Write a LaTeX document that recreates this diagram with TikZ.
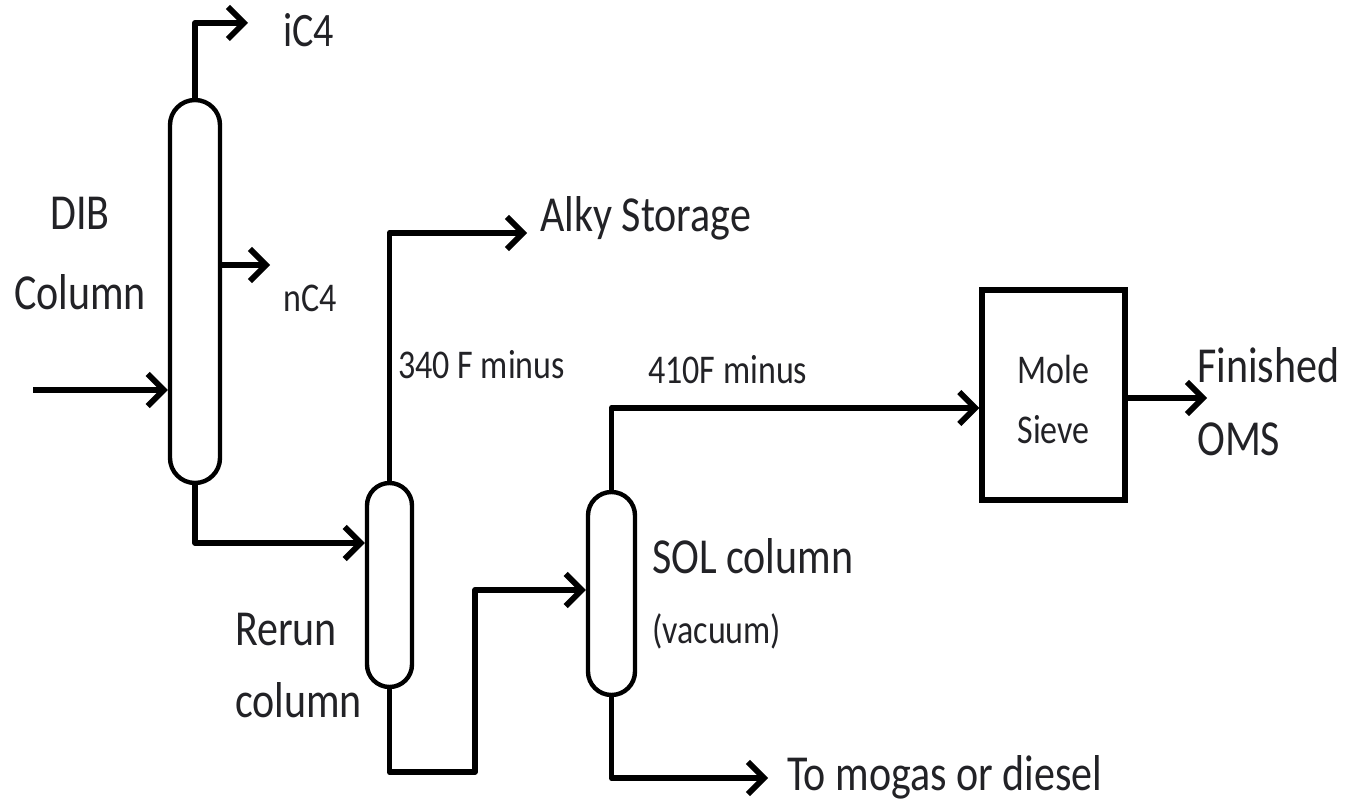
\documentclass[tikz,border=0pt]{standalone}
\usepackage{fontspec}
\usepackage{graphicx}
\setmainfont{Carlito}
\usetikzlibrary{arrows.meta,calc}
\definecolor{ink}{RGB}{34,34,38}
% text at a given size, set a little taller than the font's own proportions
\newcommand{\tx}[2]{\scalebox{1}[1.2]{\fontsize{#1}{#1}\selectfont #2}}
\tikzset{
  vessel/.style={draw=black, line width=4.4pt, fill=white, rounded corners=#1,
    minimum width=2*#1, inner sep=0pt},
  unitbox/.style={draw=black, line width=5.2pt, fill=white, inner sep=0pt,
    minimum width=143pt, minimum height=210pt},
  flow/.style={draw=black, line width=5.8pt, line join=round,
    -{Straight Barb[length=16pt,width=32pt,line width=5.8pt]}},
  lbl/.style={text=ink, inner sep=0pt, anchor=base west},
  clbl/.style={text=ink, inner sep=0pt, anchor=base},
}
\begin{document}
\begin{tikzpicture}[x=1pt,y=-1pt]
\useasboundingbox (0,0) rectangle (1355,802);

% columns and the sieve unit
\node[vessel=25pt, minimum height=383pt] (dib)   at (195,291.5) {};
\node[vessel=22.5pt, minimum height=204pt] (rerun) at (389.5,585) {};
\node[vessel=23.5pt, minimum height=203pt] (sol)   at (611.5,593.5) {};
\node[unitbox] (sieve) at (1053.5,395) {};

% free ends of the streams
\coordinate (feed)   at (33,390);
\coordinate (ic4end) at (248,23);
\coordinate (nc4end) at (270,265);
\coordinate (alkyend) at (527,233);
\coordinate (omsend) at (1207,398);
\coordinate (mogasend) at (768,778);

% streams
\draw[flow] (feed) -- (feed -| dib.west);
\draw[flow] (dib.north) |- (ic4end);
\draw[flow] (nc4end -| dib.east) -- (nc4end);
\draw[flow] (dib.south) |- ($(rerun.west)+(0,-42)$);
\draw[flow] (rerun.north) |- (alkyend);
\draw[flow] (rerun.south) |- (475,772) -- (475,590) -- (sol.west |- 475,590);
\draw[flow] (sol.north) |- ($(sieve.west)+(0,13)$);
\draw[flow] ($(sieve.east)+(0,3)$) -- (omsend);
\draw[flow] (sol.south) |- (mogasend);

% labels
\node[lbl] (tic4) at (283,47) {\tx{40}{iC4}};
\node[lbl] (tnc4) at (283,312) {\tx{34}{nC4}};
\node[clbl] (tdib) at (80,230) {\tx{42}{DIB}};
\node[clbl] (tdibc) at (80,310) {\tx{42}{Column}};
\node[lbl] (talky) at (540,232) {\tx{42}{Alky Storage}};
\node[lbl] (t340) at (398,378) {\tx{34}{340 F minus}};
\node[lbl] (t410) at (648,383) {\tx{34}{410F minus}};
\node[lbl] (trerun) at (235,645) {\tx{42}{Rerun}};
\node[lbl] (trerunc) at (235,717) {\tx{42}{column}};
\node[lbl] (tsol) at (652,573) {\tx{42}{SOL column}};
\node[lbl] (tvac) at (652,643) {\tx{34}{(vacuum)}};
\node[lbl] (tmogas) at (787,790) {\tx{42}{To mogas or diesel}};
\node[clbl] (tmole) at (1053.5,383) {\tx{34}{Mole}};
\node[clbl] (tsieve) at (1053.5,443) {\tx{34}{Sieve}};
\node[lbl] (tfin) at (1197,382) {\tx{42}{Finished}};
\node[lbl] (toms) at (1197,455) {\tx{42}{OMS}};
\end{tikzpicture}
\end{document}
